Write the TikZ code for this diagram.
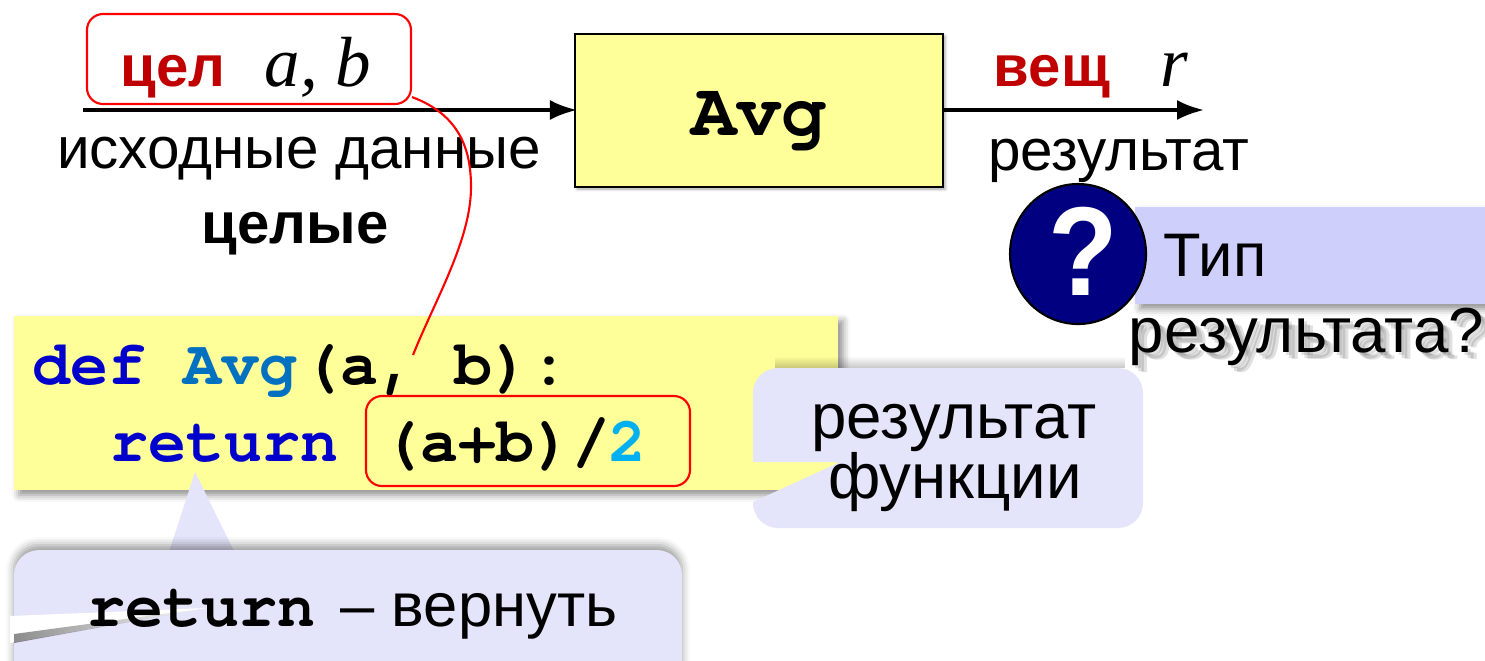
\documentclass[tikz,border=0pt]{standalone}
\usepackage{fontspec}
\setmainfont{Liberation Sans}
\setmonofont{TeX Gyre Cursor}
\newfontfamily\serifit{Liberation Serif}
\usetikzlibrary{arrows.meta,shadows.blur,shapes.geometric,fadings}
\definecolor{boxyellow}{HTML}{FFFF99}
\definecolor{bubble}{HTML}{E4E4FB}
\definecolor{tipblue}{HTML}{CFCFFB}
\definecolor{wordred}{HTML}{C00000}
\definecolor{keyblue}{HTML}{0000CC}
\definecolor{namblue}{HTML}{0070C0}
\definecolor{numblue}{HTML}{00B0F0}
\definecolor{navymark}{HTML}{000080}
\tikzset{
  txt/.style={anchor=base,inner sep=0pt,font=\fontsize{17.5}{20}\selectfont},
  toptxt/.style={anchor=base,inner sep=0pt,font=\fontsize{16.6}{20}\selectfont},
  notetxt/.style={anchor=base,inner sep=0pt,font=\fontsize{18.1}{20}\selectfont},
  boldtxt/.style={toptxt,font=\fontsize{16.5}{20}\selectfont\bfseries},
  code/.style={anchor=base west,inner sep=0pt,font=\fontsize{18}{20}\selectfont\ttfamily\bfseries},
  mathvar/.style={anchor=base,inner sep=0pt,font=\fontsize{20.2}{24}\selectfont\serifit\itshape},
  flow/.style={draw=black,line width=1pt,shorten >=-0.03cm,-{Latex[length=0.27cm,width=0.2cm]}},
  redline/.style={draw=red,line width=0.6pt},
  softshadow/.style={blur shadow={shadow xshift=0.05cm,shadow yshift=-0.05cm,shadow blur radius=0.07cm,shadow opacity=45}},
  upshadow/.style={blur shadow={shadow xshift=0cm,shadow yshift=0.05cm,shadow blur radius=0.08cm,shadow opacity=40}},
}
\begin{document}
\begin{tikzpicture}
\useasboundingbox (0,0) rectangle (14.85,-6.6);
\clip (0,0) rectangle (14.85,-6.6);

% top row
\node[draw=black,line width=0.6pt,fill=boxyellow,blur shadow={shadow xshift=0.02cm,shadow yshift=-0.02cm,shadow blur radius=0.03cm,shadow opacity=35},minimum width=3.68cm,minimum height=1.53cm,inner sep=0pt] (funcbox) at (7.59,-1.105) {};
\node[anchor=base,inner sep=0pt,font=\fontsize{21.5}{24}\selectfont\ttfamily\bfseries] (funcname) at (7.59,-1.35) {Avg};
\coordinate (instart) at (0.83,-1.1);
\coordinate (outend) at (12.01,-1.1);
\draw[flow] (instart) -- (funcbox.west |- instart);
\draw[flow] (funcbox.east |- outend) -- (outend);

\node[draw=red,line width=0.6pt,rounded corners=0.16cm,fill=white,minimum width=3.24cm,minimum height=0.9cm,inner sep=0pt] (inbox) at (2.49,-0.59) {};
\node[boldtxt,text=wordred] (intype) at (1.73,-0.86) {цел};
\node[mathvar] (invars) at (3.18,-0.86) {a, b};
\node[boldtxt,text=wordred] (outtype) at (10.52,-0.86) {вещ};
\node[mathvar] (outvar) at (11.74,-0.86) {r};
\node[toptxt] (inlabel) at (2.99,-1.68) {исходные данные};
\node[boldtxt] (intlabel) at (2.95,-2.43) {целые};
\node[toptxt] (outlabel) at (11.19,-1.7) {результат};

% question
\node[fill=tipblue,softshadow,minimum width=3.6cm,minimum height=0.97cm,inner sep=0pt] (tipbar) at (13.15,-2.555) {};
\node[draw=black,line width=0.6pt,fill=navymark,ellipse,minimum width=1.36cm,minimum height=1.4cm,inner sep=0pt] (tipmark) at (10.78,-2.54) {};
\node[anchor=base,inner sep=0pt,text=white,xscale=0.9,font=\fontsize{36}{40}\selectfont\bfseries] (tipsign) at (10.83,-2.95) {?};
\node[txt,anchor=base west] (tipfirst) at (11.63,-2.76) {Тип};
\foreach \i/\dx/\dy in {a/0.03/0.03,b/0.06/0.06,c/0.09/0.07}
  \node[notetxt,anchor=base west,text=black,opacity=0.12] (tipshade\i) at (11.28+\dx,-3.52-\dy) {результата?};
\node[notetxt,anchor=base west] (tipsecond) at (11.28,-3.52) {результата?};

% code
\node[fill=boxyellow,softshadow,minimum width=8.24cm,minimum height=1.74cm,inner sep=0pt] (codebox) at (4.26,-4.03) {};
\node[code,text=keyblue] (defword) at (0.32,-3.84) {def};
\node[code,text=namblue] (defname) at (1.83,-3.84) {Avg};
\node[code] (defargs) at (3.02,-3.84) {(a, b):};
\node[code,text=keyblue] (retword) at (1.10,-4.61) {return};
\node[draw=red,line width=0.6pt,rounded corners=0.16cm,minimum width=3.24cm,minimum height=0.9cm,inner sep=0pt] (retbox) at (5.28,-4.41) {};
\node[code] (retexpr) at (3.82,-4.61) {(a+b)/};
\node[code,text=numblue] (retnum) at (6.08,-4.61) {2};

% link from the arguments to the header
\coordinate (linkend) at (4.13,-3.55);
\draw[redline] ([yshift=0.08cm]inbox.south east) .. controls (4.6,-1.15) and (4.71,-1.5) .. (4.71,-1.87) .. controls (4.71,-2.4) and (4.35,-3.0) .. (linkend);

% return note
\fill[bubble] (1.95,-4.72) -- (2.36,-5.55) -- (1.68,-5.55) -- cycle;
\fill[bubble,upshadow,rounded corners=0.25cm] (0.14,-5.5) rectangle (6.82,-6.9);
\fill[white] (0.1,-6.16) -- (2.06,-6.08) -- (0.1,-6.43) -- cycle;
\fill[black,opacity=0.45,path fading=east] (0.14,-6.43) -- (2.06,-6.08) -- (0.14,-6.34) -- cycle;
\node[code] (noteword) at (0.87,-6.26) {return};
\node[txt,anchor=base west] (notetext) at (3.4,-6.26) {– вернуть};

% result note
\fill[black,opacity=0.22,path fading=north] (7.75,-3.68) rectangle (11.25,-3.56);
\fill[bubble] [rounded corners=0.25cm] (7.53,-4.62) -- (7.53,-3.68) -- (11.43,-3.68) -- (11.43,-5.28) -- (7.53,-5.28)
  [sharp corners] -- (7.53,-5.02) -- (8.4,-4.62) -- cycle;
\node[notetxt] (resfirst) at (9.54,-4.38) {результат};
\node[notetxt] (ressecond) at (9.55,-4.98) {функции};
\end{tikzpicture}
\end{document}
